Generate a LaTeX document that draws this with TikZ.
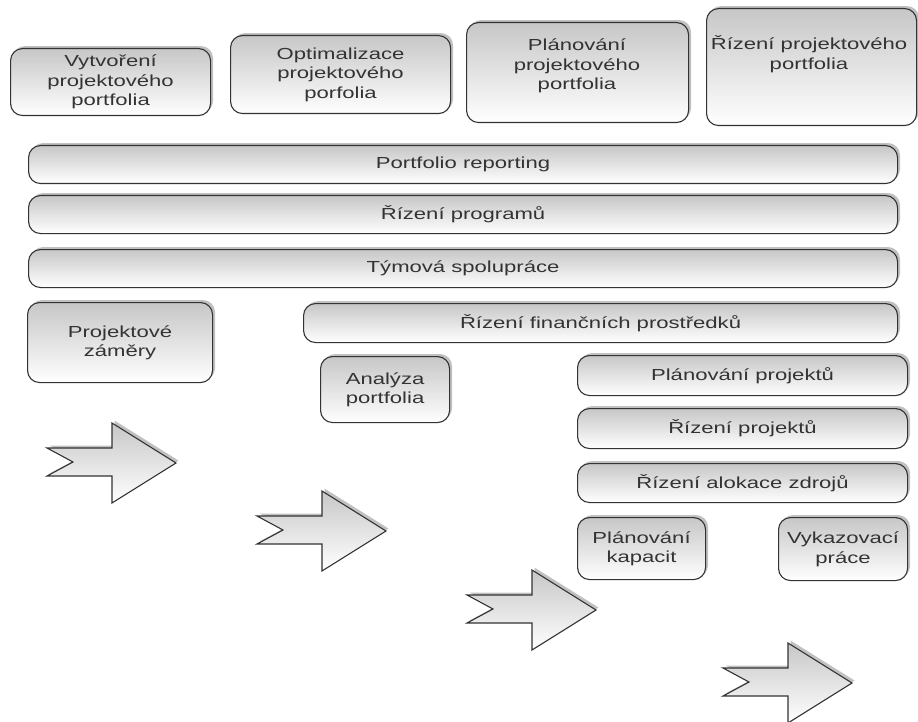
\documentclass[tikz,border=0pt]{standalone}
\usepackage{fontspec}
\setmainfont[FakeStretch=1.38]{Liberation Sans}
\usetikzlibrary{shadows}
\tikzset{
  box/.style={draw=black!80, line width=1.1pt, rounded corners=12pt,
    top color=black!22, bottom color=white, shading angle=0,
    drop shadow={shadow xshift=2.5pt, shadow yshift=2.5pt, opacity=0.35, fill=black!70},
    anchor=north west, inner sep=0pt, align=center, text=black!80,
    font=\fontsize{16}{19.5}\selectfont},
  lbl/.style={align=center, text=black!80, font=\fontsize{16}{19.5}\selectfont, inner sep=0pt},
  fatarrow/.style={draw=black!80, line width=1.1pt, line join=miter,
    top color=black!22, bottom color=white,
    drop shadow={shadow xshift=2.5pt, shadow yshift=2.5pt, opacity=0.35, fill=black!70}}
}
\newcommand\chevronarrow[2]{%
  \begin{scope}[shift={(#1,#2)}]
    \path[fatarrow] (0,0) -- (65,0) -- (65,-25) -- (129,15) -- (65,55) -- (65,28)
      -- (0,28) -- (26,14) -- cycle;
  \end{scope}}
\begin{document}
\begin{tikzpicture}[x=1pt,y=-1pt]
\useasboundingbox (0,0) rectangle (918,722);
% top row
\node[box, minimum width=200, minimum height=67] (vytv) at (10,48) {Vytvoření\\projektového\\portfolia};
\node[box, minimum width=220, minimum height=78] (optim) at (230,35) {Optimalizace\\projektového\\porfolia};
\node[box, minimum width=222, minimum height=100] (plan) at (466,22) {};
\node[lbl] (plant) at (577,66) {Plánování\\projektového\\portfolia};
\node[box, minimum width=210, minimum height=117] (rizpp) at (706,8) {};
\node[lbl] (rizppt) at (809,54) {Řízení projektového\\portfolia};
% bars
\node[box, minimum width=869, minimum height=38] (report) at (28,145) {Portfolio reporting};
\node[box, minimum width=869, minimum height=38] (progr) at (28,195) {Řízení programů};
\node[box, minimum width=869, minimum height=38] (tym) at (28,249) {Týmová spolupráce};
% middle
\node[box, minimum width=185, minimum height=80] (zamery) at (27,302) {Projektové\\záměry};
\node[box, minimum width=594, minimum height=39] (financ) at (303,303) {Řízení finančních prostředků};
\node[box, minimum width=129, minimum height=66] (analyza) at (320,356) {Analýza\\portfolia};
\node[box, minimum width=330, minimum height=40] (planproj) at (577,355) {Plánování projektů};
\node[box, minimum width=330, minimum height=40] (rizproj) at (577,408) {Řízení projektů};
\node[box, minimum width=330, minimum height=39] (alokace) at (577,463) {Řízení alokace zdrojů};
\node[box, minimum width=128, minimum height=62] (kapacit) at (577,517) {Plánování\\kapacit};
\node[box, minimum width=129, minimum height=63] (vykaz) at (778,517) {Vykazovací\\práce};
% arrows
\chevronarrow{47}{448}
\chevronarrow{257}{516}
\chevronarrow{467}{595}
\chevronarrow{723}{668}
\end{tikzpicture}
\end{document}
